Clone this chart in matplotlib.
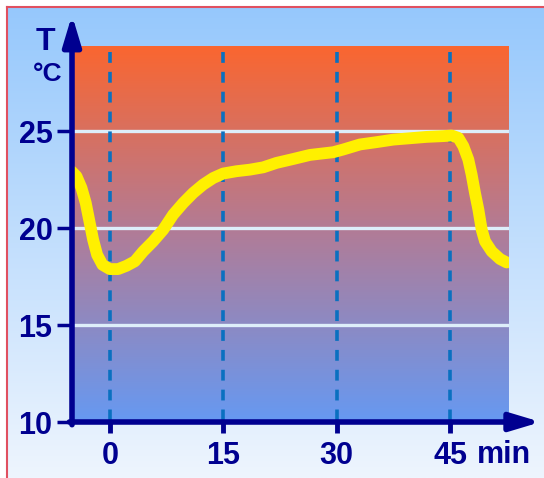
import numpy as np
import matplotlib.pyplot as plt
from matplotlib.colors import LinearSegmentedColormap
from matplotlib.lines import Line2D

# temperature curve (minutes, degrees C)
minutes = [-5.07, -4.41, -3.75, -3.18, -2.74, -2.21, -1.68, -0.97, 0.0, 1.10, 2.21,
           3.31, 4.41, 5.73, 7.06, 8.38, 9.71, 11.03, 12.35, 13.68, 15.0, 16.76,
           18.53, 20.29, 22.06, 24.26, 26.47, 29.56, 30.88, 33.09, 35.29,
           37.50, 39.70, 41.91, 44.12, 45.22, 46.10, 46.76, 47.42, 47.86, 48.30,
           48.75, 49.19, 49.63, 50.51, 51.61, 52.50]
temps = [22.94, 22.68, 22.08, 21.30, 20.44, 19.41, 18.63, 18.11, 17.89, 17.89, 18.06,
         18.29, 18.80, 19.32, 19.92, 20.70, 21.30, 21.82, 22.25, 22.59, 22.82, 22.94,
         23.02, 23.14, 23.37, 23.57, 23.78, 23.92, 24.06, 24.32, 24.44,
         24.57, 24.64, 24.71, 24.75, 24.78, 24.66, 24.23, 23.54, 22.76, 21.82,
         20.96, 19.92, 19.32, 18.80, 18.41, 18.23]

x_ticks = [0, 15, 30, 45]
x_labels = ["0", "15", "30", "45"]
y_ticks = [10, 15, 20, 25]
y_labels = ["10", "15", "20", "25"]

W, H = 544, 478
navy = "#000090"
font = "Liberation Sans"
fig = plt.figure(figsize=(W / 100, H / 100), dpi=100)
fig.patch.set_facecolor("white")

# light blue page background inside the red frame
bg = fig.add_axes([7 / W, 0, 1 - 7 / W, 1 - 7 / H])
bg_cmap = LinearSegmentedColormap.from_list("bg", ["#EEF5FE", "#96C8FC"])
bg.imshow(np.linspace(0, 1, 256).reshape(-1, 1), cmap=bg_cmap, aspect="auto",
          origin="lower", extent=[0, 1, 0, 1])
bg.axis("off")
fig.add_artist(Line2D([7 / W, 7 / W], [0, 1 - 7 / H], color="#E05060", lw=1.5))
fig.add_artist(Line2D([7 / W, 1], [1 - 7 / H, 1 - 7 / H], color="#E05060", lw=1.5))

x0, x1 = -5, 52.8
y0, y1 = 10, 29.4
ax = fig.add_axes([72 / W, (H - 422) / H, (509 - 72) / W, (422 - 46) / H])
ax.set_xlim(x0, x1)
ax.set_ylim(y0, y1)
ax.patch.set_alpha(0)

# orange-to-blue plot area
area_cmap = LinearSegmentedColormap.from_list("area", ["#6699F2", "#B07C98", "#FA6630"])
ax.imshow(np.linspace(0, 1, 256).reshape(-1, 1), cmap=area_cmap, aspect="auto",
          origin="lower", extent=[x0, x1, y0, y1], zorder=0)

for y in y_ticks[1:]:
    ax.plot([x0, x1 - 0.2], [y, y], color="#DDEEFA", lw=2.4, zorder=1)
for x in x_ticks:
    ax.plot([x, x], [y1 - 0.3, y0], color="#0A70C0", lw=2.6, dashes=(3.0, 2.5), zorder=2)

ax.plot(minutes, temps, color="#FFF000", lw=8.5, solid_capstyle="round",
        solid_joinstyle="round", zorder=3)

for s in ax.spines.values():
    s.set_visible(False)

# axes with arrows
arrow = dict(arrowstyle="-|>,head_length=1.0,head_width=0.3", mutation_scale=18,
             lw=4, color=navy, shrinkA=0, shrinkB=0)
ax.annotate("", xy=(x0, 31.0), xytext=(x0, y0 - 0.14), annotation_clip=False,
            arrowprops=arrow)
ax.annotate("", xy=(57.0, y0), xytext=(x0 - 0.35, y0), annotation_clip=False,
            arrowprops=arrow)

ax.set_xticks(x_ticks)
ax.set_xticklabels(x_labels)
ax.set_yticks(y_ticks)
ax.set_yticklabels(y_labels)
ax.tick_params(axis="x", length=8, width=3.5, color=navy, pad=6, labelsize=22,
               labelcolor=navy)
ax.tick_params(axis="y", length=11, width=2.5, color=navy, pad=3, labelsize=22,
               labelcolor=navy)
for lab in ax.get_xticklabels() + ax.get_yticklabels():
    lab.set_fontfamily(font)
    lab.set_fontweight("bold")

fig.text(477 / W, 1 - 455 / H, "min", fontsize=22, fontweight="bold", color=navy,
         family=font, ha="left", va="center")
fig.text(45 / W, 1 - 42 / H, "T", fontsize=23, fontweight="bold", color=navy,
         family=font, ha="center", va="center")
fig.text(48 / W, 1 - 74 / H, "°C", fontsize=19, fontweight="bold", color=navy,
         family=font, ha="center", va="center")

fig.savefig("out.png", dpi=100)
